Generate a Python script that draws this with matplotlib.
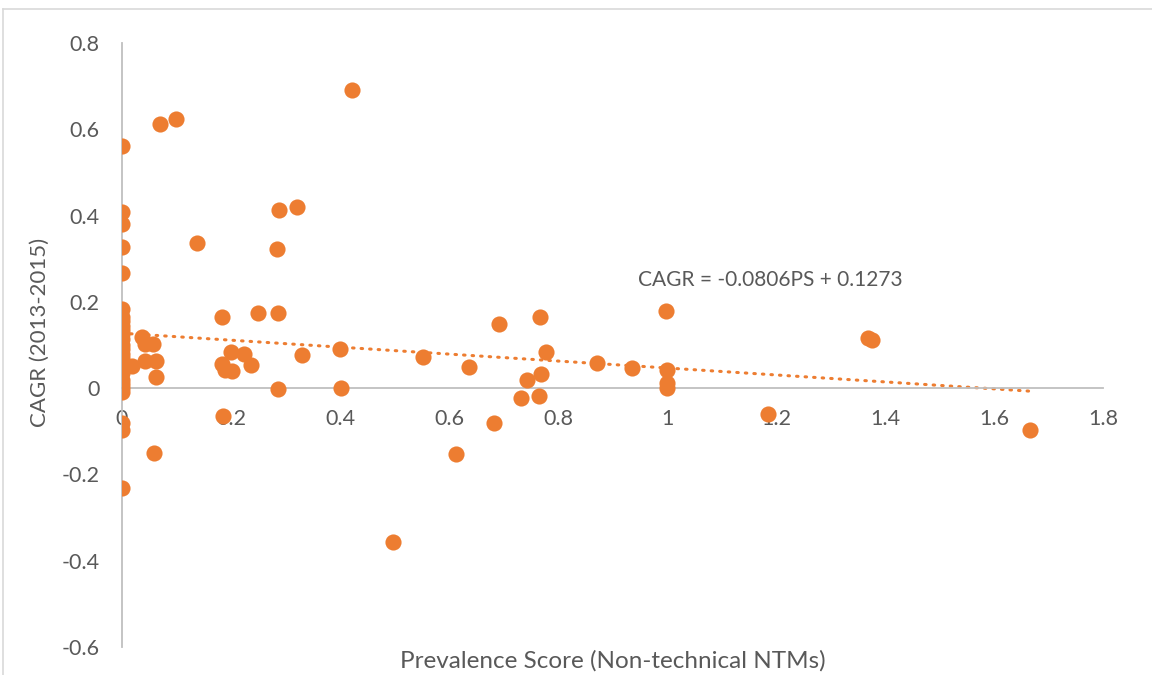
import numpy as np
import matplotlib
matplotlib.use("Agg")
import matplotlib.pyplot as plt
from matplotlib.lines import Line2D

plt.rcParams['font.family'] = ['Lato', 'DejaVu Sans']

# prevalence score (x) and CAGR (y)
ps = [0, 0, 0, 0, 0, 0, 0, 0, 0, 0, 0, 0, 0, 0, 0, 0, 0, 0, 0, 0, 0, 0, 0, 0, 0, 0,
      0.070, 0.099, 0.422, 0.137, 0.288, 0.321, 0.284,
      0.183, 0.250, 0.286, 0.037, 0.042, 0.057, 0.042, 0.062, 0.062, 0.018, 0.058,
      0.200, 0.223, 0.183, 0.201, 0.189, 0.236, 0.330, 0.400, 0.286, 0.402, 0.186,
      0.552, 0.691, 0.767, 0.636, 0.778, 0.872, 0.936, 0.999, 1.0, 1.0, 1.0,
      0.768, 0.743, 0.733, 0.765, 0.683, 0.613, 1.185, 0.497, 1.369, 1.376, 1.666]
cagr = [0.561, 0.408, 0.381, 0.326, 0.267, 0.183, 0.165, 0.155, 0.145, 0.135, 0.125,
        0.115, 0.100, 0.090, 0.080, 0.070, 0.060, 0.045, 0.035, 0.020, 0.010, 0.0,
        -0.008, -0.081, -0.096, -0.232,
        0.612, 0.623, 0.691, 0.336, 0.412, 0.421, 0.323,
        0.166, 0.174, 0.175, 0.119, 0.102, 0.103, 0.064, 0.064, 0.026, 0.051, -0.150,
        0.084, 0.080, 0.057, 0.040, 0.043, 0.053, 0.077, 0.090, -0.001, 0.001, -0.065,
        0.072, 0.148, 0.166, 0.049, 0.084, 0.059, 0.046, 0.179, 0.042, 0.012, 0.001,
        0.033, 0.020, -0.024, -0.019, -0.081, -0.153, -0.061, -0.356, 0.117, 0.111, -0.098]

slope = -0.0806
intercept = 0.1273
x_ticks = [0, 0.2, 0.4, 0.6, 0.8, 1, 1.2, 1.4, 1.6, 1.8]
y_ticks = [-0.6, -0.4, -0.2, 0, 0.2, 0.4, 0.6, 0.8]

orange = '#ED7D31'
grey = '#595959'
axis_grey = '#BFBFBF'

fig = plt.figure(figsize=(11.52, 6.75), dpi=100)
ax = fig.add_axes([122/1152, 1-647/675, (1103-122)/1152, (647-43)/675])

ax.scatter(ps, cagr, s=135, color=orange, linewidths=0, zorder=3)

xs = np.array([min(ps), max(ps)])
ax.plot(xs, slope*xs + intercept, color=orange, lw=2.2, linestyle=(0, (0.5, 2.3)),
        dash_capstyle='round', zorder=2)

ax.set_xlim(0, 1.8)
ax.set_ylim(-0.6, 0.8)
ax.set_xticks(x_ticks)
ax.set_yticks(y_ticks)
ax.set_xticklabels([f'{t:g}' for t in x_ticks])
ax.set_yticklabels([f'{t:g}' for t in y_ticks])

ax.spines['top'].set_visible(False)
ax.spines['right'].set_visible(False)
ax.spines['bottom'].set_position(('data', 0))
ax.spines['left'].set_color(axis_grey)
ax.spines['bottom'].set_color(axis_grey)
ax.spines['left'].set_linewidth(1.3)
ax.spines['bottom'].set_linewidth(1.3)
ax.tick_params(axis='x', length=0, pad=15, labelsize=15.5, labelcolor=grey)
ax.tick_params(axis='y', length=0, pad=16, labelsize=15.5, labelcolor=grey)

ax.text(0.947, 0.251, 'CAGR = -0.0806PS + 0.1273', fontsize=15, color=grey,
        va='center', ha='left')

fig.text(613/1152, 1-661/675, 'Prevalence Score (Non-technical NTMs)', fontsize=17.5,
         color=grey, ha='center', va='center')
fig.text(40/1152, 1-332/675, 'CAGR (2013-2015)', fontsize=16, color=grey,
         ha='center', va='center', rotation=90)

# chart area border (top and left edges visible)
fig.add_artist(Line2D([3/1152, 1], [1-8.5/675, 1-8.5/675], color='#D9D9D9', lw=1.2))
fig.add_artist(Line2D([3/1152, 3/1152], [0, 1-8.5/675], color='#D9D9D9', lw=1.2))

fig.savefig('out.png', dpi=100)
